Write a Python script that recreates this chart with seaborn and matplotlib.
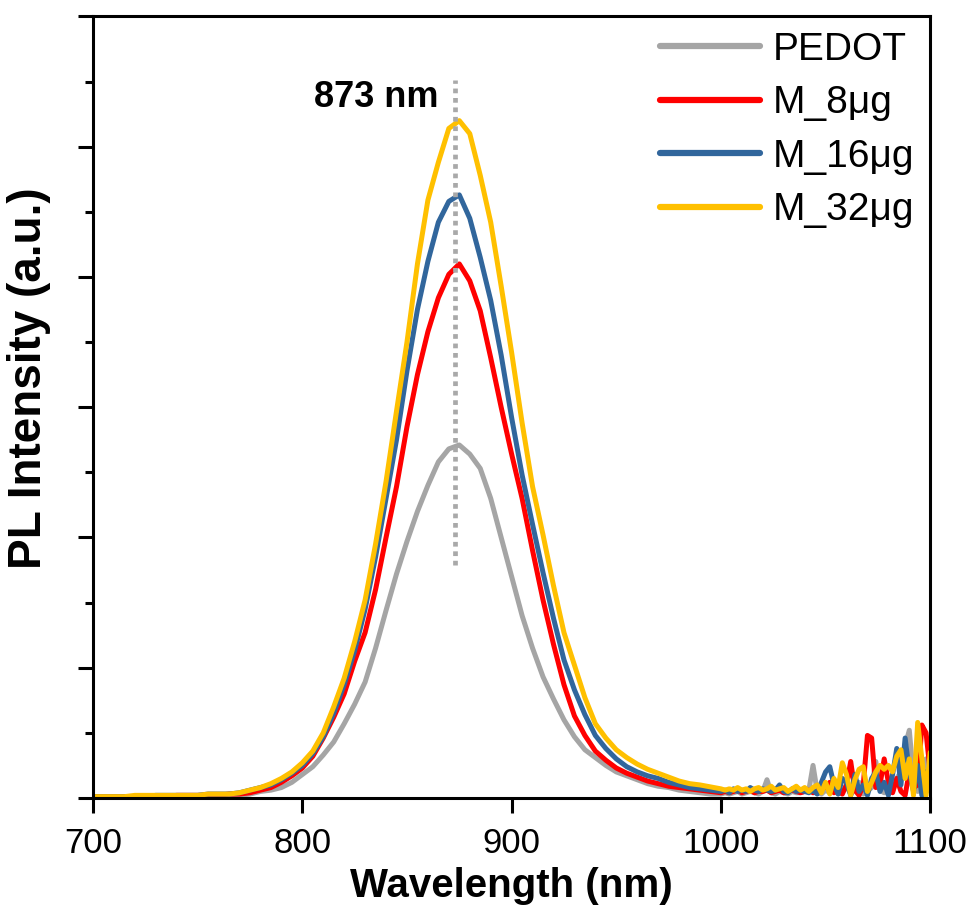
import numpy as np
import pandas as pd
import matplotlib
matplotlib.use("Agg")
import matplotlib.pyplot as plt
from matplotlib.ticker import MultipleLocator
import seaborn as sns

# wavelength grid (nm): 5 nm steps in the main band, 2 nm steps in the noisy tail
wl_main = np.arange(700, 1000, 5)
wl_tail = np.arange(1000, 1101, 2)
wavelength = np.concatenate([wl_main, wl_tail])

labels = ["PEDOT", "M_8\u03bcg", "M_16\u03bcg", "M_32\u03bcg"]
colors = ["#A5A5A5", "#FF0000", "#31669C", "#FFC000"]

# 700..995 every 5 nm (60 values)
pedot_main = [0.01, 0.01, 0.01, 0.01, 0.01, 0.01, 0.01, 0.01, 0.01, 0.01,
              0.01, 0.02, 0.02, 0.02, 0.02, 0.03, 0.05, 0.06, 0.08, 0.12,
              0.18, 0.24, 0.33, 0.43, 0.57, 0.72, 0.89, 1.15, 1.44, 1.72,
              1.97, 2.20, 2.40, 2.58, 2.68, 2.71, 2.64, 2.53, 2.30, 2.00,
              1.70, 1.40, 1.15, 0.93, 0.76, 0.60, 0.47, 0.37, 0.31, 0.25,
              0.20, 0.17, 0.14, 0.11, 0.09, 0.08, 0.06, 0.05, 0.04, 0.03]
m8_main = [0.01, 0.01, 0.01, 0.01, 0.01, 0.01, 0.01, 0.01, 0.02, 0.02,
           0.02, 0.02, 0.02, 0.03, 0.03, 0.04, 0.06, 0.08, 0.12, 0.17,
           0.23, 0.32, 0.46, 0.62, 0.80, 1.05, 1.27, 1.60, 2.00, 2.39,
           2.85, 3.25, 3.58, 3.84, 4.02, 4.10, 3.97, 3.74, 3.38, 3.00,
           2.64, 2.30, 1.90, 1.52, 1.18, 0.87, 0.63, 0.48, 0.36, 0.29,
           0.23, 0.19, 0.16, 0.13, 0.11, 0.09, 0.08, 0.07, 0.06, 0.05]
m16_main = [0.01, 0.01, 0.01, 0.01, 0.01, 0.01, 0.02, 0.02, 0.02, 0.02,
            0.02, 0.03, 0.03, 0.03, 0.04, 0.06, 0.08, 0.10, 0.14, 0.19,
            0.25, 0.34, 0.47, 0.65, 0.87, 1.13, 1.45, 1.85, 2.30, 2.75,
            3.28, 3.75, 4.12, 4.42, 4.58, 4.63, 4.45, 4.15, 3.82, 3.40,
            2.92, 2.48, 2.10, 1.73, 1.38, 1.06, 0.83, 0.64, 0.48, 0.38,
            0.30, 0.24, 0.20, 0.17, 0.15, 0.12, 0.10, 0.08, 0.07, 0.06]
m32_main = [0.01, 0.01, 0.01, 0.01, 0.02, 0.02, 0.02, 0.02, 0.02, 0.02,
            0.02, 0.03, 0.03, 0.03, 0.04, 0.06, 0.08, 0.11, 0.15, 0.20,
            0.27, 0.36, 0.50, 0.70, 0.92, 1.20, 1.52, 1.95, 2.43, 2.97,
            3.50, 4.10, 4.59, 4.88, 5.14, 5.20, 5.10, 4.78, 4.42, 3.93,
            3.42, 2.88, 2.39, 2.02, 1.63, 1.27, 1.02, 0.77, 0.57, 0.46,
            0.37, 0.31, 0.26, 0.22, 0.19, 0.16, 0.13, 0.11, 0.10, 0.085]

# 1000..1100 every 2 nm (51 values)
pedot_tail = [0.03, 0.04, 0.03, 0.04, 0.05, 0.03, 0.04, 0.05, 0.04, 0.03,
              0.05, 0.14, 0.04, 0.03, 0.05, 0.04, 0.03, 0.05, 0.04, 0.04,
              0.05, 0.06, 0.25, 0.05, 0.03, 0.06, 0.04, 0.08, 0.03, 0.05,
              0.10, 0.03, 0.06, 0.12, 0.03, 0.05, 0.08, 0.28, 0.06, 0.04,
              0.10, 0.05, 0.15, 0.20, 0.40, 0.52, 0.15, 0.05, 0.10, 0.30, 0.05]
m8_tail = [0.04, 0.05, 0.04, 0.05, 0.06, 0.04, 0.05, 0.06, 0.04, 0.05,
           0.05, 0.06, 0.04, 0.05, 0.06, 0.04, 0.05, 0.06, 0.05, 0.04,
           0.05, 0.06, 0.04, 0.05, 0.10, 0.08, 0.12, 0.04, 0.06, 0.03,
           0.10, 0.28, 0.06, 0.02, 0.10, 0.48, 0.46, 0.08, 0.10, 0.30,
           0.12, 0.04, 0.15, 0.05, 0.02, 0.20, 0.08, 0.10, 0.56, 0.50, 0.20]
m16_tail = [0.05, 0.06, 0.04, 0.07, 0.05, 0.06, 0.05, 0.08, 0.06, 0.05,
            0.07, 0.06, 0.05, 0.06, 0.10, 0.05, 0.04, 0.07, 0.05, 0.06,
            0.05, 0.04, 0.06, 0.03, 0.12, 0.20, 0.24, 0.10, 0.03, 0.15,
            0.12, 0.02, 0.18, 0.05, 0.10, 0.02, 0.15, 0.20, 0.05, 0.12,
            0.02, 0.18, 0.38, 0.10, 0.46, 0.20, 0.05, 0.25, 0.02, 0.20, 0.10]
m32_tail = [0.07, 0.06, 0.07, 0.06, 0.08, 0.06, 0.07, 0.05, 0.07, 0.08,
            0.06, 0.07, 0.09, 0.06, 0.07, 0.08, 0.05, 0.07, 0.09, 0.06,
            0.08, 0.05, 0.08, 0.10, 0.04, 0.12, 0.03, 0.15, 0.08, 0.27,
            0.18, 0.02, 0.14, 0.22, 0.24, 0.05, 0.12, 0.20, 0.25, 0.22,
            0.25, 0.20, 0.32, 0.37, 0.15, 0.30, 0.02, 0.58, 0.30, 0.02, 0.35]

series = {
    labels[0]: pedot_main + pedot_tail,
    labels[1]: m8_main + m8_tail,
    labels[2]: m16_main + m16_tail,
    labels[3]: m32_main + m32_tail,
}

peak_wl = 873
peak_label = "873 nm"

frames = []
for name, vals in series.items():
    frames.append(pd.DataFrame({"wl": wavelength, "I": vals, "sample": name}))
df = pd.concat(frames, ignore_index=True)

sns.set_style("ticks")
plt.rcParams["font.family"] = ["Liberation Sans", "DejaVu Sans"]
plt.rcParams["text.color"] = "black"
plt.rcParams["axes.labelcolor"] = "black"
plt.rcParams["xtick.color"] = "black"
plt.rcParams["ytick.color"] = "black"

fig = plt.figure(figsize=(9.69, 9.13), dpi=100)
ax = fig.add_axes([0.096, 0.126, 0.864, 0.856])

sns.lineplot(data=df, x="wl", y="I", hue="sample", hue_order=labels,
             palette=dict(zip(labels, colors)), sort=False, estimator=None,
             linewidth=3.6, ax=ax)

ax.plot([peak_wl, peak_wl], [1.79, 5.51], color="#A9A9A9", lw=3.4,
        linestyle=(0, (1, 1)), zorder=5)
ax.text(peak_wl - 8, 5.38, peak_label, ha="right", va="center",
        fontsize=26, fontweight="bold")

ax.set_xlim(700, 1100)
ax.set_ylim(0, 6)
ax.xaxis.set_major_locator(MultipleLocator(100))
ax.yaxis.set_major_locator(MultipleLocator(1))
ax.yaxis.set_minor_locator(MultipleLocator(0.5))
ax.set_yticklabels([])
ax.tick_params(axis="x", which="major", length=11, width=2.2, labelsize=25, pad=10)
ax.tick_params(axis="y", which="major", length=11, width=2.2)
ax.tick_params(axis="y", which="minor", length=5.5, width=2.2)
for s in ax.spines.values():
    s.set_visible(True)
    s.set_linewidth(2.2)
    s.set_color("black")

ax.set_xlabel("Wavelength (nm)", fontsize=29, fontweight="bold", labelpad=5)
ax.set_ylabel("PL Intensity (a.u.)", fontsize=33, fontweight="bold")
ax.yaxis.set_label_coords(-0.05, 0.537)

leg = ax.legend(loc="upper right", frameon=False, fontsize=28,
                handlelength=2.55, handletextpad=0.35, labelspacing=0.45,
                borderaxespad=0.1, borderpad=0.3)
for line in leg.get_lines():
    line.set_linewidth(4.5)

fig.savefig("out.png", dpi=100)
